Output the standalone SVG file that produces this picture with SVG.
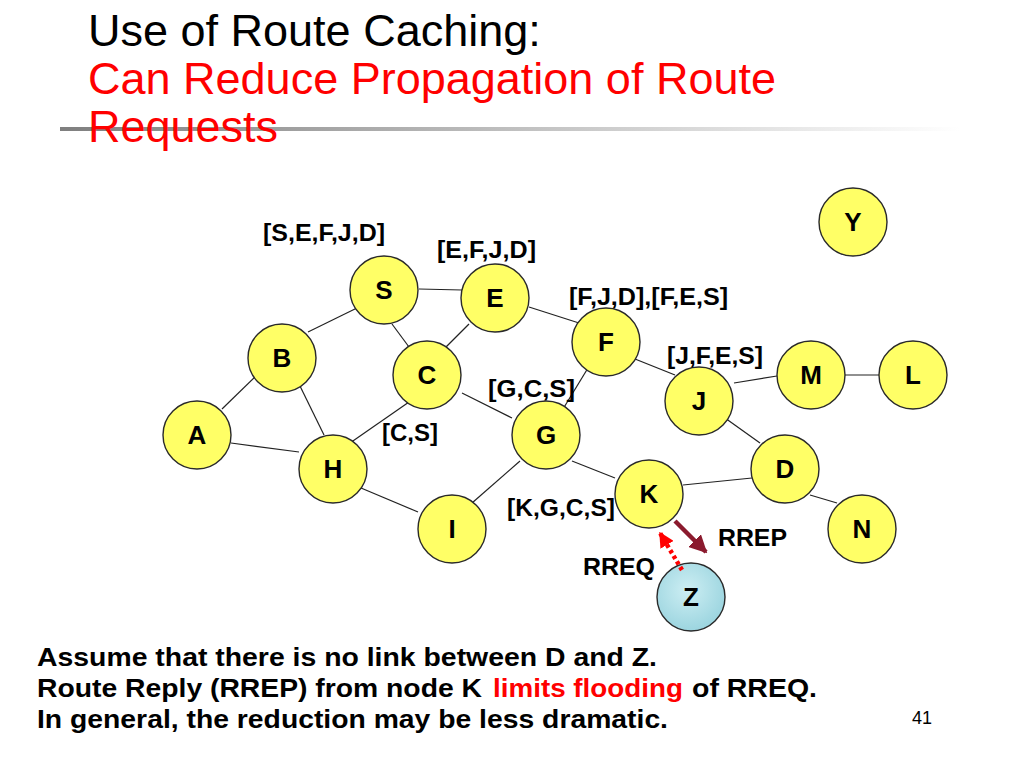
<svg xmlns="http://www.w3.org/2000/svg" width="1024" height="768" viewBox="0 0 1024 768">
<defs>
<linearGradient id="rule" x1="0" y1="0" x2="1" y2="0">
<stop offset="0" stop-color="#7f7f7f"/>
<stop offset="1" stop-color="#ffffff"/>
</linearGradient>
<radialGradient id="zfill" cx="0.45" cy="0.4" r="0.65">
<stop offset="0" stop-color="#cdeef3"/>
<stop offset="1" stop-color="#98d3de"/>
</radialGradient>
<marker id="headRrep" viewBox="0 0 10 10" refX="9" refY="5" markerWidth="4" markerHeight="4" orient="auto" markerUnits="strokeWidth">
<path d="M0,0 L10,5 L0,10 z" fill="#8b1a2e"/>
</marker>
<marker id="headRreq" viewBox="0 0 10 10" refX="9" refY="5" markerWidth="3.4" markerHeight="3.4" orient="auto" markerUnits="strokeWidth">
<path d="M0,0 L10,5 L0,10 z" fill="#ff0000"/>
</marker>
<style>
.title{font-family:"Liberation Sans",Arial,sans-serif;font-size:45px}
.node circle{fill:#ffff66;stroke:#2a2a2a;stroke-width:1.4}
.node text{font-family:"Liberation Sans",Arial,sans-serif;font-size:26px;font-weight:bold;text-anchor:middle;fill:#000}
.lbl{font-family:"Liberation Sans",Arial,sans-serif;font-size:23px;font-weight:bold;fill:#000}
.body{font-family:"Liberation Sans",Arial,sans-serif;font-size:26px;font-weight:bold}
#links line{stroke:#222;stroke-width:1.2}
</style>
</defs>
<rect width="1024" height="768" fill="#ffffff"/>

<rect x="60" y="127" width="900" height="4" fill="url(#rule)"/>
<text class="title" x="88" y="46" fill="#000">Use of Route Caching:</text>
<text class="title" x="88" y="94" fill="#ff0000">Can Reduce Propagation of Route</text>
<text class="title" x="88" y="142" fill="#ff0000">Requests</text>

<g id="links">
<line x1="419" y1="289" x2="462" y2="290"/>
<line x1="308" y1="332" x2="359" y2="307"/>
<line x1="392" y1="324" x2="409" y2="347"/>
<line x1="469" y1="324" x2="444" y2="349"/>
<line x1="256" y1="376" x2="222" y2="409"/>
<line x1="299" y1="384" x2="324" y2="435"/>
<line x1="231" y1="443" x2="299" y2="452"/>
<line x1="409" y1="402" x2="350" y2="443"/>
<line x1="462" y1="393" x2="512" y2="418"/>
<line x1="529" y1="307" x2="579" y2="323"/>
<line x1="588" y1="368" x2="563" y2="409"/>
<line x1="635" y1="359" x2="675" y2="375"/>
<line x1="734" y1="383" x2="777" y2="376"/>
<line x1="844" y1="375" x2="879" y2="375"/>
<line x1="725" y1="418" x2="760" y2="443"/>
<line x1="520" y1="461" x2="472" y2="503"/>
<line x1="361" y1="488" x2="418" y2="512"/>
<line x1="572" y1="461" x2="615" y2="478"/>
<line x1="683" y1="485" x2="752" y2="478"/>
<line x1="810" y1="495" x2="837" y2="503"/>
</g>

<g id="node-S" class="node"><circle cx="384" cy="290" r="34"/><text x="384" y="299">S</text></g>
<g id="node-E" class="node"><circle cx="495" cy="298" r="34"/><text x="495" y="307">E</text></g>
<g id="node-B" class="node"><circle cx="282" cy="358" r="34"/><text x="282" y="367">B</text></g>
<g id="node-C" class="node"><circle cx="427" cy="375" r="34"/><text x="427" y="384">C</text></g>
<g id="node-A" class="node"><circle cx="197" cy="435" r="34"/><text x="197" y="444">A</text></g>
<g id="node-H" class="node"><circle cx="333" cy="469" r="34"/><text x="333" y="478">H</text></g>
<g id="node-G" class="node"><circle cx="546" cy="435" r="34"/><text x="546" y="444">G</text></g>
<g id="node-I" class="node"><circle cx="452" cy="529" r="34"/><text x="452" y="538">I</text></g>
<g id="node-F" class="node"><circle cx="606" cy="342" r="34"/><text x="606" y="351">F</text></g>
<g id="node-J" class="node"><circle cx="699" cy="401" r="34"/><text x="699" y="410">J</text></g>
<g id="node-M" class="node"><circle cx="811" cy="375" r="34"/><text x="811" y="384">M</text></g>
<g id="node-L" class="node"><circle cx="913" cy="375" r="34"/><text x="913" y="384">L</text></g>
<g id="node-Y" class="node"><circle cx="853" cy="222" r="34"/><text x="853" y="231">Y</text></g>
<g id="node-K" class="node"><circle cx="649" cy="494" r="34"/><text x="649" y="503">K</text></g>
<g id="node-D" class="node"><circle cx="785" cy="469" r="34"/><text x="785" y="478">D</text></g>
<g id="node-N" class="node"><circle cx="862" cy="529" r="34"/><text x="862" y="538">N</text></g>
<g id="node-Z" class="node"><circle cx="691" cy="597" r="34" style="fill:url(#zfill)"/><text x="691" y="606">Z</text></g>

<g id="arrows">
<line x1="675" y1="521" x2="706" y2="552" stroke="#8b1a2e" stroke-width="4.5" marker-end="url(#headRrep)"/>
<line x1="682" y1="570" x2="660" y2="533" stroke="#ff0000" stroke-width="4.5" stroke-dasharray="3.5 3" marker-end="url(#headRreq)"/>
</g>

<g id="labels">
<text class="lbl" x="263" y="241" textLength="122" lengthAdjust="spacingAndGlyphs">[S,E,F,J,D]</text>
<text class="lbl" x="437" y="258" textLength="99" lengthAdjust="spacingAndGlyphs">[E,F,J,D]</text>
<text class="lbl" x="569" y="305" textLength="159" lengthAdjust="spacingAndGlyphs">[F,J,D],[F,E,S]</text>
<text class="lbl" x="667" y="364" textLength="96" lengthAdjust="spacingAndGlyphs">[J,F,E,S]</text>
<text class="lbl" x="488" y="397" textLength="87" lengthAdjust="spacingAndGlyphs">[G,C,S]</text>
<text class="lbl" x="382" y="441" textLength="56" lengthAdjust="spacingAndGlyphs">[C,S]</text>
<text class="lbl" x="507" y="516" textLength="108" lengthAdjust="spacingAndGlyphs">[K,G,C,S]</text>
<text class="lbl" x="583" y="575" textLength="72" lengthAdjust="spacingAndGlyphs">RREQ</text>
<text class="lbl" x="718" y="546" textLength="69" lengthAdjust="spacingAndGlyphs">RREP</text>
</g>

<g id="notes">
<text class="body" x="37" y="666" textLength="620" lengthAdjust="spacingAndGlyphs" style="fill:#000">Assume that there is no link between D and Z.</text>
<text class="body" x="37" y="697" textLength="445" lengthAdjust="spacingAndGlyphs" style="fill:#000">Route Reply (RREP) from node K</text>
<text class="body" x="493" y="697" textLength="190" lengthAdjust="spacingAndGlyphs" style="fill:#ff0000">limits flooding</text>
<text class="body" x="692" y="697" textLength="125" lengthAdjust="spacingAndGlyphs" style="fill:#000">of RREQ.</text>
<text class="body" x="37" y="728" textLength="631" lengthAdjust="spacingAndGlyphs" style="fill:#000">In general, the reduction may be less dramatic.</text>
<text x="912" y="724" font-family="Liberation Sans, Arial, sans-serif" font-size="18" fill="#000">41</text>
</g>
</svg>
